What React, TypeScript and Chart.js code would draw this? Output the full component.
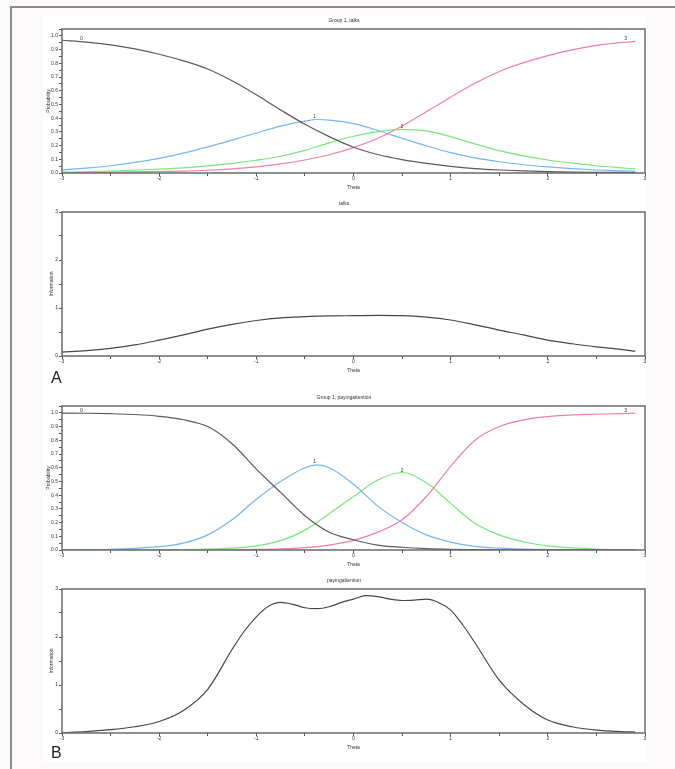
import React, { useEffect, useRef } from 'react';
import { Chart, registerables } from 'chart.js';

Chart.register(...registerables);

// ---------- data ----------
const thetas = [-3, -2.75, -2.5, -2.25, -2, -1.75, -1.5, -1.25, -1, -0.75, -0.5, -0.25, 0, 0.25, 0.5, 0.75, 1, 1.25, 1.5, 1.75, 2, 2.25, 2.5, 2.75, 2.9];
// category-1 curves carry an extra point at their peak (theta = -0.375)
const thetasCat1 = [-3, -2.75, -2.5, -2.25, -2, -1.75, -1.5, -1.25, -1, -0.75, -0.5, -0.375, -0.25, 0, 0.25, 0.5, 0.75, 1, 1.25, 1.5, 1.75, 2, 2.25, 2.5, 2.75, 2.9];

const talksCat0 = [0.968, 0.955, 0.934, 0.905, 0.866, 0.818, 0.758, 0.672, 0.57, 0.46, 0.355, 0.265, 0.188, 0.135, 0.098, 0.07, 0.048, 0.032, 0.022, 0.015, 0.01, 0.007, 0.005, 0.004, 0.003];
const talksCat1 = [0.022, 0.035, 0.053, 0.077, 0.107, 0.145, 0.19, 0.24, 0.292, 0.342, 0.378, 0.39, 0.386, 0.36, 0.31, 0.253, 0.198, 0.148, 0.11, 0.082, 0.06, 0.044, 0.032, 0.022, 0.015, 0.012];
const talksCat2 = [0.006, 0.009, 0.013, 0.02, 0.028, 0.038, 0.052, 0.07, 0.093, 0.122, 0.165, 0.22, 0.268, 0.302, 0.318, 0.307, 0.265, 0.212, 0.163, 0.125, 0.095, 0.072, 0.053, 0.038, 0.03];
const talksCat3 = [0.003, 0.004, 0.006, 0.008, 0.011, 0.014, 0.02, 0.03, 0.045, 0.066, 0.095, 0.133, 0.185, 0.253, 0.343, 0.447, 0.553, 0.655, 0.74, 0.805, 0.856, 0.898, 0.93, 0.95, 0.96];
const talksInfo = [0.08, 0.11, 0.16, 0.23, 0.33, 0.44, 0.56, 0.66, 0.74, 0.795, 0.82, 0.835, 0.84, 0.845, 0.84, 0.81, 0.75, 0.65, 0.54, 0.44, 0.33, 0.255, 0.19, 0.14, 0.1];

const payCat0 = [0.998, 0.997, 0.994, 0.988, 0.975, 0.95, 0.9, 0.775, 0.59, 0.42, 0.25, 0.13, 0.075, 0.036, 0.02, 0.01, 0.005, 0.003, 0.002, 0.001, 0.001, 0.001, 0.001, 0.001, 0.001];
const payCat1 = [0.001, 0.002, 0.005, 0.012, 0.024, 0.05, 0.11, 0.22, 0.37, 0.5, 0.6, 0.62, 0.6, 0.48, 0.32, 0.2, 0.11, 0.058, 0.026, 0.013, 0.006, 0.003, 0.002, 0.001, 0.001, 0.001];
const payCat2 = [0.0, 0.0003, 0.0005, 0.001, 0.002, 0.003, 0.006, 0.013, 0.03, 0.068, 0.145, 0.265, 0.39, 0.51, 0.565, 0.49, 0.34, 0.195, 0.11, 0.06, 0.03, 0.015, 0.007, 0.003, 0.002];
const payCat3 = [0.0002, 0.0002, 0.0003, 0.0005, 0.0008, 0.001, 0.0015, 0.002, 0.004, 0.008, 0.017, 0.036, 0.07, 0.13, 0.22, 0.39, 0.61, 0.8, 0.9, 0.949, 0.973, 0.985, 0.99, 0.995, 0.996];

const thetasB = [-3, -2.75, -2.5, -2.25, -2, -1.75, -1.5, -1.25, -1.125, -1, -0.875, -0.75, -0.625, -0.5, -0.375, -0.25, -0.125, 0, 0.125, 0.25, 0.375, 0.5, 0.625, 0.75, 0.875, 1, 1.125, 1.25, 1.5, 1.75, 2, 2.25, 2.5, 2.75, 2.9];
const payInfo = [0.01, 0.03, 0.07, 0.13, 0.24, 0.47, 0.91, 1.74, 2.12, 2.42, 2.64, 2.72, 2.68, 2.61, 2.59, 2.63, 2.72, 2.79, 2.86, 2.84, 2.79, 2.76, 2.77, 2.79, 2.72, 2.56, 2.25, 1.88, 1.1, 0.6, 0.27, 0.13, 0.06, 0.03, 0.02];

const xTickLabels = ['-3', '-2', '-1', '0', '1', '2', '3'];
const probTickLabels = ['0.0', '0.1', '0.2', '0.3', '0.4', '0.5', '0.6', '0.7', '0.8', '0.9', '1.0'];
const infoTickLabels = ['0', '1', '2', '3'];

const curveLabelTexts = ['0', '1', '2', '3'];
const talksLabelX = [-2.8, -0.4, 0.5, 2.8];
const talksLabelY = [0.98, 0.41, 0.335, 0.98];
const payLabelX = [-2.8, -0.4, 0.5, 2.8];
const payLabelY = [1.015, 0.642, 0.577, 1.015];

// ---------- styling ----------
const FONT = '"Liberation Sans", Arial, sans-serif';
const TXT = '#333333';
const CAT_COLORS = ['#5a5a5a', '#76b6f2', '#78e878', '#f27db0'];
const INFO_COLOR = '#474747';
const CW = 609;
const CH = 183;

type PanelCfg = {
  top: number;
  title: string;
  yTitle: string;
  kind: 'prob' | 'info';
  series: { xs: number[]; ys: number[]; color: string }[];
  labels?: { texts: string[]; xs: number[]; ys: number[] };
};

function toPoints(xs: number[], ys: number[]) {
  return xs.map((x, i) => ({ x, y: ys[i] }));
}

function buildConfig(p: PanelCfg): any {
  const isProb = p.kind === 'prob';
  const framePlugin = {
    id: 'frameAndLabels',
    afterDatasetsDraw(chart: any) {
      const { ctx, chartArea } = chart;
      ctx.save();
      ctx.strokeStyle = '#6a6a6a';
      ctx.lineWidth = 1.5;
      ctx.strokeRect(chartArea.left, chartArea.top, chartArea.right - chartArea.left, chartArea.bottom - chartArea.top);
      if (p.labels) {
        ctx.fillStyle = TXT;
        ctx.font = `5px ${FONT}`;
        ctx.textAlign = 'center';
        ctx.textBaseline = 'middle';
        const xs = chart.scales.x;
        const ys = chart.scales.y;
        p.labels.texts.forEach((t, i) => {
          ctx.fillText(t, xs.getPixelForValue(p.labels!.xs[i]), ys.getPixelForValue(p.labels!.ys[i]));
        });
      }
      ctx.restore();
    },
  };
  return {
    type: 'line',
    data: {
      datasets: p.series.map((s) => ({
        data: toPoints(s.xs, s.ys),
        borderColor: s.color,
        borderWidth: 1.2,
        pointRadius: 0,
        cubicInterpolationMode: 'monotone',
        fill: false,
      })),
    },
    options: {
      animation: false,
      responsive: false,
      devicePixelRatio: 1,
      layout: { padding: { left: 0, right: 7, top: 0, bottom: 0 } },
      plugins: {
        legend: { display: false },
        tooltip: { enabled: false },
        title: {
          display: true,
          text: p.title,
          color: TXT,
          font: { family: FONT, size: 5, weight: 'normal', lineHeight: 1.2 },
          padding: { top: 6, bottom: 5 },
        },
      },
      scales: {
        x: {
          type: 'linear',
          min: -3,
          max: 3,
          afterFit: (s: any) => { s.height = 22; },
          border: { display: false },
          grid: { drawOnChartArea: false, drawTicks: true, tickLength: 3, color: '#555555' },
          ticks: {
            stepSize: 0.5,
            autoSkip: false,
            maxRotation: 0,
            padding: 0,
            color: TXT,
            font: { family: FONT, size: 5, lineHeight: 1.2 },
            callback: (v: number) => {
              const r = Math.round(v);
              return Math.abs(v - r) < 1e-6 ? xTickLabels[r + 3] : '';
            },
          },
          title: {
            display: true,
            text: 'Theta',
            color: TXT,
            font: { family: FONT, size: 5, lineHeight: 1.2 },
            padding: { top: 0, bottom: 4 },
          },
        },
        y: {
          type: 'linear',
          min: 0,
          max: isProb ? 1.05 : 3,
          afterFit: (s: any) => { s.width = 19; },
          border: { display: false },
          grid: { drawOnChartArea: false, drawTicks: true, tickLength: 3, color: '#555555' },
          ticks: {
            stepSize: isProb ? 0.05 : 0.5,
            autoSkip: false,
            padding: 1,
            color: TXT,
            font: { family: FONT, size: 5, lineHeight: 1.2 },
            callback: (v: number) => {
              if (isProb) {
                const r = Math.round(v * 10);
                return Math.abs(v * 10 - r) < 1e-6 ? probTickLabels[r] : '';
              }
              const r = Math.round(v);
              return Math.abs(v - r) < 1e-6 ? infoTickLabels[r] : '';
            },
          },
          title: {
            display: true,
            text: p.yTitle,
            color: TXT,
            font: { family: FONT, size: 5, lineHeight: 1.2 },
            padding: { top: isProb ? 2.3 : 5.5, bottom: 0 },
          },
        },
      },
    },
    plugins: [framePlugin],
  };
}

const panels: PanelCfg[] = [
  {
    top: 12,
    title: 'Group 1, talks',
    yTitle: 'Probability',
    kind: 'prob',
    series: [
      { xs: thetas, ys: talksCat0, color: CAT_COLORS[0] },
      { xs: thetasCat1, ys: talksCat1, color: CAT_COLORS[1] },
      { xs: thetas, ys: talksCat2, color: CAT_COLORS[2] },
      { xs: thetas, ys: talksCat3, color: CAT_COLORS[3] },
    ],
    labels: { texts: curveLabelTexts, xs: talksLabelX, ys: talksLabelY },
  },
  {
    top: 195,
    title: 'talks',
    yTitle: 'Information',
    kind: 'info',
    series: [{ xs: thetas, ys: talksInfo, color: INFO_COLOR }],
  },
  {
    top: 389,
    title: 'Group 1, payingattention',
    yTitle: 'Probability',
    kind: 'prob',
    series: [
      { xs: thetas, ys: payCat0, color: CAT_COLORS[0] },
      { xs: thetasCat1, ys: payCat1, color: CAT_COLORS[1] },
      { xs: thetas, ys: payCat2, color: CAT_COLORS[2] },
      { xs: thetas, ys: payCat3, color: CAT_COLORS[3] },
    ],
    labels: { texts: curveLabelTexts, xs: payLabelX, ys: payLabelY },
  },
  {
    top: 572,
    title: 'payingattention',
    yTitle: 'Information',
    kind: 'info',
    series: [{ xs: thetasB, ys: payInfo, color: INFO_COLOR }],
  },
];

function Panel({ cfg }: { cfg: PanelCfg }) {
  const ref = useRef<HTMLCanvasElement>(null);
  useEffect(() => {
    const chart = new Chart(ref.current as HTMLCanvasElement, buildConfig(cfg));
    return () => chart.destroy();
  }, [cfg]);
  return (
    <canvas
      ref={ref}
      width={CW}
      height={CH}
      style={{ position: 'absolute', left: 43, top: cfg.top, width: CW, height: CH }}
    />
  );
}

export default function App() {
  return (
    <div
      style={{
        position: 'absolute',
        left: 0,
        top: 0,
        width: 675,
        height: 769,
        overflow: 'hidden',
        background: '#fcf9fa',
      }}
    >
      <div
        style={{
          position: 'absolute',
          left: 10,
          top: 6,
          width: 700,
          height: 800,
          borderLeft: '2px solid #8c8c8c',
          borderTop: '2px solid #8c8c8c',
          boxSizing: 'border-box',
        }}
      />
      <div style={{ position: 'absolute', left: 43, top: 16, width: 604, height: 746, background: '#ffffff' }} />
      {panels.map((p, i) => (
        <Panel key={i} cfg={p} />
      ))}
      <div style={{ position: 'absolute', left: 51, top: 370, font: `16px ${FONT}`, lineHeight: '16px', color: '#222' }}>A</div>
      <div style={{ position: 'absolute', left: 51, top: 745, font: `16px ${FONT}`, lineHeight: '16px', color: '#222' }}>B</div>
    </div>
  );
}
